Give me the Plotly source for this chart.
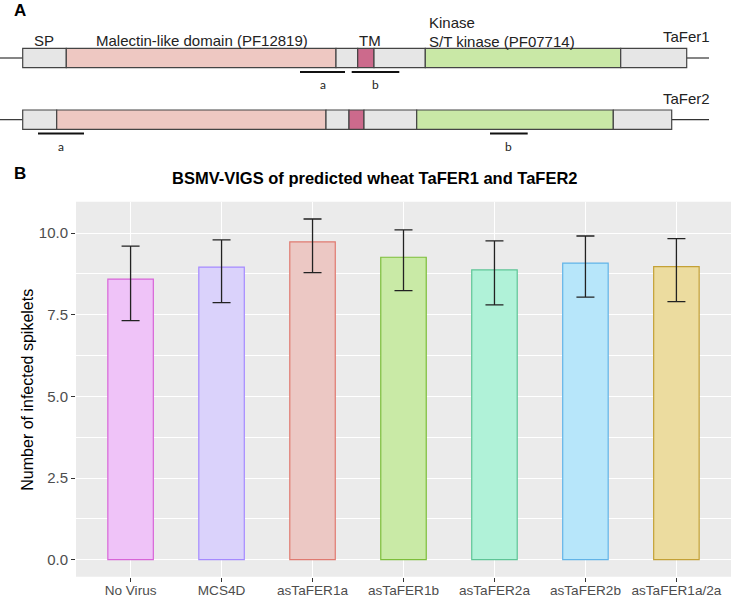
import plotly.graph_objects as go

W, H = 733, 597

# ---------------- Panel B data ----------------
categories = ["No Virus", "MCS4D", "asTaFER1a", "asTaFER1b", "asTaFER2a", "asTaFER2b", "asTaFER1a/2a"]
means = [8.59, 8.96, 9.73, 9.26, 8.87, 9.08, 8.97]
upper = [9.60, 9.79, 10.43, 10.10, 9.76, 9.91, 9.83]
lower = [7.32, 7.87, 8.79, 8.24, 7.80, 8.04, 7.90]
fill_colors = ["#EFC3F8", "#DAD2FB", "#ECC8C4", "#C9EAA6", "#B0F2D8", "#B7E6FA", "#ECDC9F"]
line_colors = ["#D865D8", "#A58AFF", "#E07A70", "#7DBE3A", "#5EC596", "#62B4E8", "#C4A136"]
y_ticks = [0, 2.5, 5.0, 7.5, 10.0]
title_b = "BSMV-VIGS of predicted wheat TaFER1 and TaFER2"
y_title = "Number of infected spikelets"

# ---------------- Panel A data (schematic, diagram units) ----------------
tafer1_bounds = [22.7, 66.3, 336, 357.7, 374, 425.3, 620.7, 686.7]
tafer2_bounds = [22.7, 56.7, 326, 349, 364, 416.7, 613.3, 671.7]
segment_kinds = ["other", "malectin", "other", "tm", "other", "kinase", "other"]
kind_colors = {"other": "#E6E6E6", "malectin": "#EEC8C2", "tm": "#CC6A8C", "kinase": "#C9E8A6"}
row_top = [48.3, 110.0]
row_bottom = [67.7, 129.3]
line_extent = [0, 709]
probe_x0 = [300, 351.7, 38, 490]
probe_x1 = [345, 399.3, 84, 527.7]
probe_row = [0, 0, 1, 1]
probe_names = ["a", "b", "a", "b"]
domain_labels = ["SP", "Malectin-like domain (PF12819)", "TM"]
domain_label_x = [44, 202, 370]
kinase_labels = ["Kinase", "S/T kinase (PF07714)"]
gene_names = ["TaFer1", "TaFer2"]

def px(x):
    return x / W

def py(y):
    return 1 - y / H

fig = go.Figure()

fig.add_trace(go.Bar(
    x=categories, y=means, width=0.5,
    marker=dict(color=fill_colors, line=dict(color=line_colors, width=1.2)),
    error_y=dict(type="data", symmetric=False,
                 array=[u - m for u, m in zip(upper, means)],
                 arrayminus=[m - l for m, l in zip(means, lower)],
                 color="#222222", thickness=1.3, width=9),
    showlegend=False, hoverinfo="skip",
))

shapes = []
# panel background
shapes.append(dict(type="rect", xref="x domain", yref="y domain", x0=0, x1=1, y0=0, y1=1,
                   fillcolor="#EBEBEB", line=dict(width=0), layer="below"))

# Panel A schematic
rows = [tafer1_bounds, tafer2_bounds]
for r, bounds in enumerate(rows):
    yc = (row_top[r] + row_bottom[r]) / 2
    shapes.append(dict(type="line", xref="paper", yref="paper",
                       x0=px(line_extent[0]), x1=px(bounds[0]), y0=py(yc), y1=py(yc),
                       line=dict(color="#333333", width=1.2)))
    shapes.append(dict(type="line", xref="paper", yref="paper",
                       x0=px(bounds[-1]), x1=px(line_extent[1]), y0=py(yc), y1=py(yc),
                       line=dict(color="#333333", width=1.2)))
    for i, kind in enumerate(segment_kinds):
        shapes.append(dict(type="rect", xref="paper", yref="paper",
                           x0=px(bounds[i]), x1=px(bounds[i + 1]),
                           y0=py(row_bottom[r]), y1=py(row_top[r]),
                           fillcolor=kind_colors[kind], line=dict(color="#444444", width=1.2)))

annotations = []
for x0, x1, r, name in zip(probe_x0, probe_x1, probe_row, probe_names):
    yl = row_bottom[r] + 4.3
    shapes.append(dict(type="line", xref="paper", yref="paper",
                       x0=px(x0), x1=px(x1), y0=py(yl), y1=py(yl),
                       line=dict(color="#111111", width=2)))
    annotations.append(dict(x=px((x0 + x1) / 2), y=py(yl + 13), xref="paper", yref="paper",
                            text=name, showarrow=False, xanchor="center", yanchor="middle",
                            font=dict(family="Lato", size=12, color="#222222")))

for lab, lx in zip(domain_labels, domain_label_x):
    annotations.append(dict(x=px(lx), y=py(40), xref="paper", yref="paper", text=lab,
                            showarrow=False, xanchor="center", yanchor="middle",
                            font=dict(family="Liberation Sans, Arial", size=15, color="#222222")))
for lab, ly in zip(kinase_labels, [22.5, 41]):
    annotations.append(dict(x=px(427), y=py(ly), xref="paper", yref="paper", text=lab,
                            showarrow=False, xanchor="left", yanchor="middle",
                            font=dict(family="Liberation Sans, Arial", size=15, color="#222222")))
for lab, ly in zip(gene_names, [36, 98]):
    annotations.append(dict(x=px(686), y=py(ly), xref="paper", yref="paper", text=lab,
                            showarrow=False, xanchor="center", yanchor="middle",
                            font=dict(family="Liberation Sans, Arial", size=15, color="#222222")))

# panel letters
annotations.append(dict(x=px(12), y=py(10), xref="paper", yref="paper", text="<b>A</b>",
                        showarrow=False, xanchor="left", yanchor="middle",
                        font=dict(family="Liberation Sans, Arial", size=17, color="black")))
annotations.append(dict(x=px(12), y=py(173), xref="paper", yref="paper", text="<b>B</b>",
                        showarrow=False, xanchor="left", yanchor="middle",
                        font=dict(family="Liberation Sans, Arial", size=17, color="black")))
# panel B title
annotations.append(dict(x=px(375), y=py(178), xref="paper", yref="paper", text="<b>" + title_b + "</b>",
                        showarrow=False, xanchor="center", yanchor="middle",
                        font=dict(family="Liberation Sans, Arial", size=16.5, color="black")))
# y title
annotations.append(dict(x=px(26.7), y=py(390), xref="paper", yref="paper", text=y_title,
                        showarrow=False, xanchor="center", yanchor="middle", textangle=-90,
                        font=dict(family="Liberation Sans, Arial", size=16, color="black")))

fig.update_layout(
    width=W, height=H, autosize=False,
    margin=dict(l=0, r=0, t=0, b=0, pad=0),
    paper_bgcolor="white", plot_bgcolor="white",
    shapes=shapes, annotations=annotations,
    bargap=0.5, hovermode=False,
    xaxis=dict(domain=[px(76), px(731)], range=[-0.6, 6.6], type="category",
               showgrid=True, gridcolor="white", gridwidth=1.2,
               ticks="outside", ticklen=4, tickcolor="#333333", tickwidth=1,
               ticklabelstandoff=-3,
               tickfont=dict(family="Liberation Sans, Arial", size=13.6, color="#4D4D4D"),
               showline=False, zeroline=False, fixedrange=True, automargin=False),
    yaxis=dict(domain=[py(576.7), py(201.7)], range=[-0.52, 10.96],
               tickvals=y_ticks, ticktext=[f"{v:.1f}" for v in y_ticks],
               showgrid=True, gridcolor="white", gridwidth=1.2,
               minor=dict(tickvals=[1.25, 3.75, 6.25, 8.75], showgrid=True, gridcolor="white", gridwidth=0.6, ticks=""),
               ticks="outside", ticklen=4, tickcolor="#333333", tickwidth=1,
               tickfont=dict(family="Liberation Sans, Arial", size=15, color="#4D4D4D"),
               showline=False, zeroline=False, fixedrange=True, automargin=False),
)

fig.write_html("out.html", config={"responsive": False, "displayModeBar": False},
               post_script="document.body.style.margin='0';document.body.style.padding='0';")
